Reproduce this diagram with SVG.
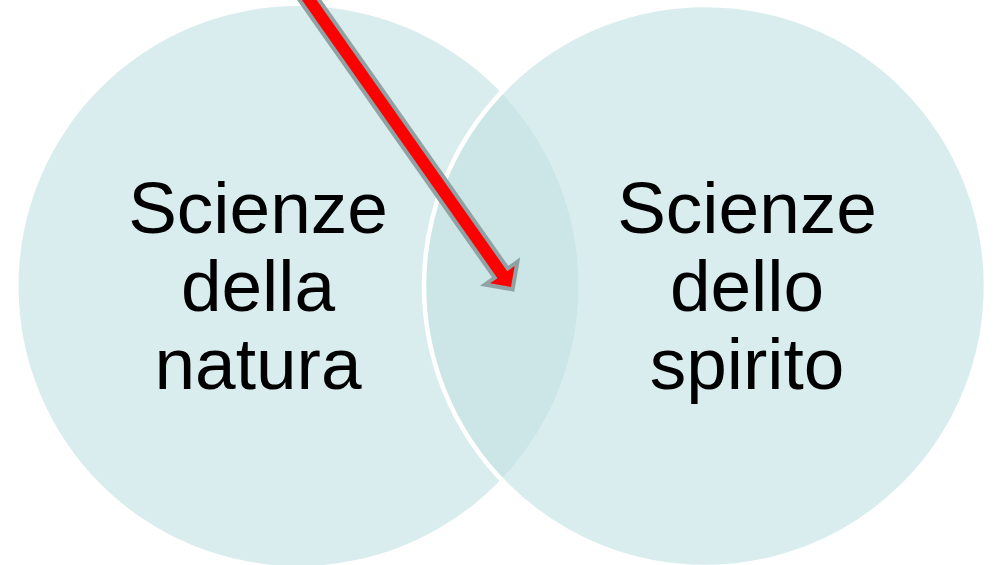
<svg xmlns="http://www.w3.org/2000/svg" width="994" height="565" viewBox="0 0 994 565">
  <style>
    .lbl { font-family: "Liberation Sans", Arial, sans-serif; font-size: 73px; fill: #000000; text-anchor: middle; }
  </style>
  <rect x="0" y="0" width="994" height="565" fill="#ffffff"/>
  <g id="node-natura">
    <circle cx="298.5" cy="286" r="280" fill="#daedee"/>
    <text class="lbl" x="258" y="233">Scienze</text>
    <text class="lbl" x="258" y="311">della</text>
    <text class="lbl" x="258" y="389">natura</text>
  </g>
  <g id="node-spirito">
    <circle cx="705" cy="286" r="281" fill="rgb(195,226,228)" fill-opacity="0.62" stroke="#ffffff" stroke-width="4.5"/>
    <text class="lbl" x="747" y="233">Scienze</text>
    <text class="lbl" x="747" y="311">dello</text>
    <text class="lbl" x="747" y="389">spirito</text>
  </g>
  <g id="connectors">
    <polygon transform="translate(511,287) rotate(54.9)" points="0,0 -15,-15 -15,-6 -420,-6 -420,6 -15,6 -15,15" fill="#ff0000" stroke="#8fa2a4" stroke-width="8" stroke-linejoin="miter" stroke-miterlimit="10" paint-order="stroke"/>
  </g>
</svg>
